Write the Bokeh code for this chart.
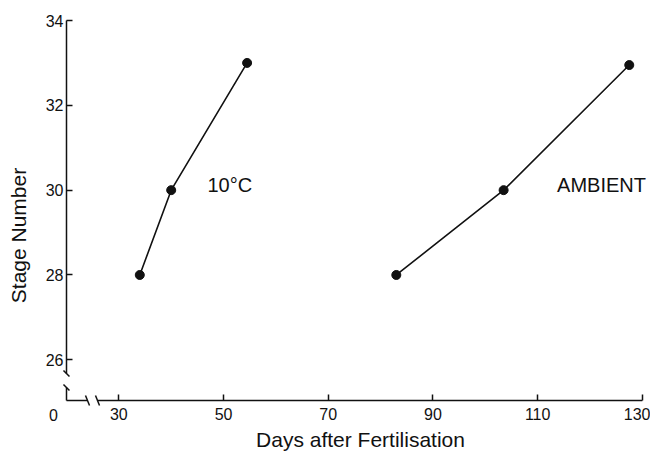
import math
from bokeh.plotting import figure
from bokeh.models import Range1d, FixedTicker, Label
from bokeh.embed import file_html
from bokeh.resources import INLINE

# ---- data ----
days_10c = [34, 40, 54.5]
stage_10c = [28, 30, 33]
days_amb = [83, 103.5, 127.5]
stage_amb = [28, 30, 32.95]
x_ticks = [30, 50, 70, 90, 110, 130]
y_ticks = [26, 28, 30, 32, 34]
x_label = "Days after Fertilisation"
y_label = "Stage Number"
series_labels = ["10°C", "AMBIENT"]

FONT = "Liberation Sans"
INK = "#111111"

# axis origin (broken axes)
X0 = 20.0      # data x where the y axis sits (labelled "0")
Y0 = 25.04     # data y where the x axis sits
PX_X = 5.235   # pixels per x unit
PX_Y = 42.41   # pixels per y unit

W, H = 650, 452
p = figure(width=W, height=H, output_backend="svg", toolbar_location=None,
           x_range=Range1d(7.393, 131.557), y_range=Range1d(23.814, 34.472),
           min_border_left=0, min_border_right=0, min_border_top=0, min_border_bottom=0)
p.outline_line_color = None
p.grid.visible = False
p.background_fill_color = "white"
p.border_fill_color = "white"

for ax in (p.xaxis[0], p.yaxis[0]):
    ax.axis_line_color = None
    ax.major_tick_in = 6
    ax.major_tick_out = 0
    ax.minor_tick_line_color = None
    ax.major_tick_line_color = INK
    ax.major_tick_line_width = 1.5
    ax.major_label_text_font = FONT
    ax.major_label_text_font_size = "16px"
    ax.major_label_text_color = INK
    ax.axis_label_text_font = FONT
    ax.axis_label_text_font_style = "normal"
    ax.axis_label_text_font_size = "21px"
    ax.axis_label_text_color = INK

p.xaxis[0].fixed_location = Y0
p.yaxis[0].fixed_location = X0
p.xaxis[0].ticker = FixedTicker(ticks=x_ticks)
p.yaxis[0].ticker = FixedTicker(ticks=y_ticks)
p.xaxis[0].major_label_standoff = 7
p.yaxis[0].major_label_standoff = 3
p.xaxis[0].bounds = (22.3, 130)
p.xaxis[0].axis_label = x_label
p.xaxis[0].axis_label_standoff = 5

# axis lines with breaks
xb1 = X0 + 21 / PX_X
xb2 = X0 + 31 / PX_X
yb1 = Y0 + 13 / PX_Y
yb2 = Y0 + 27 / PX_Y
p.segment(x0=[X0, xb2], y0=[Y0, Y0], x1=[xb1, x_ticks[-1]], y1=[Y0, Y0],
          line_color=INK, line_width=1.5)
p.segment(x0=[X0, X0], y0=[Y0, yb2], x1=[X0, X0], y1=[yb1, y_ticks[-1]],
          line_color=INK, line_width=1.5)
# break slashes
sx = [xb1, xb2]
p.segment(x0=[v - 2 / PX_X for v in sx], y0=[Y0 + 5 / PX_Y] * 2,
          x1=[v + 2 / PX_X for v in sx], y1=[Y0 - 5 / PX_Y] * 2,
          line_color=INK, line_width=1.5)
sy = [yb1, yb2]
p.segment(x0=[X0 - 3 / PX_X] * 2, y0=[v + 3 / PX_Y for v in sy],
          x1=[X0 + 3 / PX_X] * 2, y1=[v - 3 / PX_Y for v in sy],
          line_color=INK, line_width=1.5)

# "0" label under the origin
p.add_layout(Label(x=X0 - 13 / PX_X, y=Y0, y_offset=-8, text="0",
                   text_font=FONT, text_font_size="16px", text_color=INK,
                   text_align="center", text_baseline="top"))
# y axis title
p.add_layout(Label(x=X0 - 48 / PX_X, y=Y0 + 165 / PX_Y, text=y_label, angle=math.pi / 2,
                   text_font=FONT, text_font_size="21px", text_color=INK,
                   text_align="center", text_baseline="middle"))

# series
for xs, ys in ((days_10c, stage_10c), (days_amb, stage_amb)):
    p.line(xs, ys, line_color=INK, line_width=1.6)
    p.scatter(xs, ys, size=9, marker="circle", fill_color=INK, line_color=INK)

# series labels
p.add_layout(Label(x=51.2, y=30.11, text=series_labels[0], text_font=FONT,
                   text_font_size="20px", text_color=INK,
                   text_align="center", text_baseline="middle"))
p.add_layout(Label(x=122.2, y=30.11, text=series_labels[1], text_font=FONT,
                   text_font_size="20px", text_color=INK,
                   text_align="center", text_baseline="middle"))

open("out.html", "w").write(file_html(p, INLINE))
